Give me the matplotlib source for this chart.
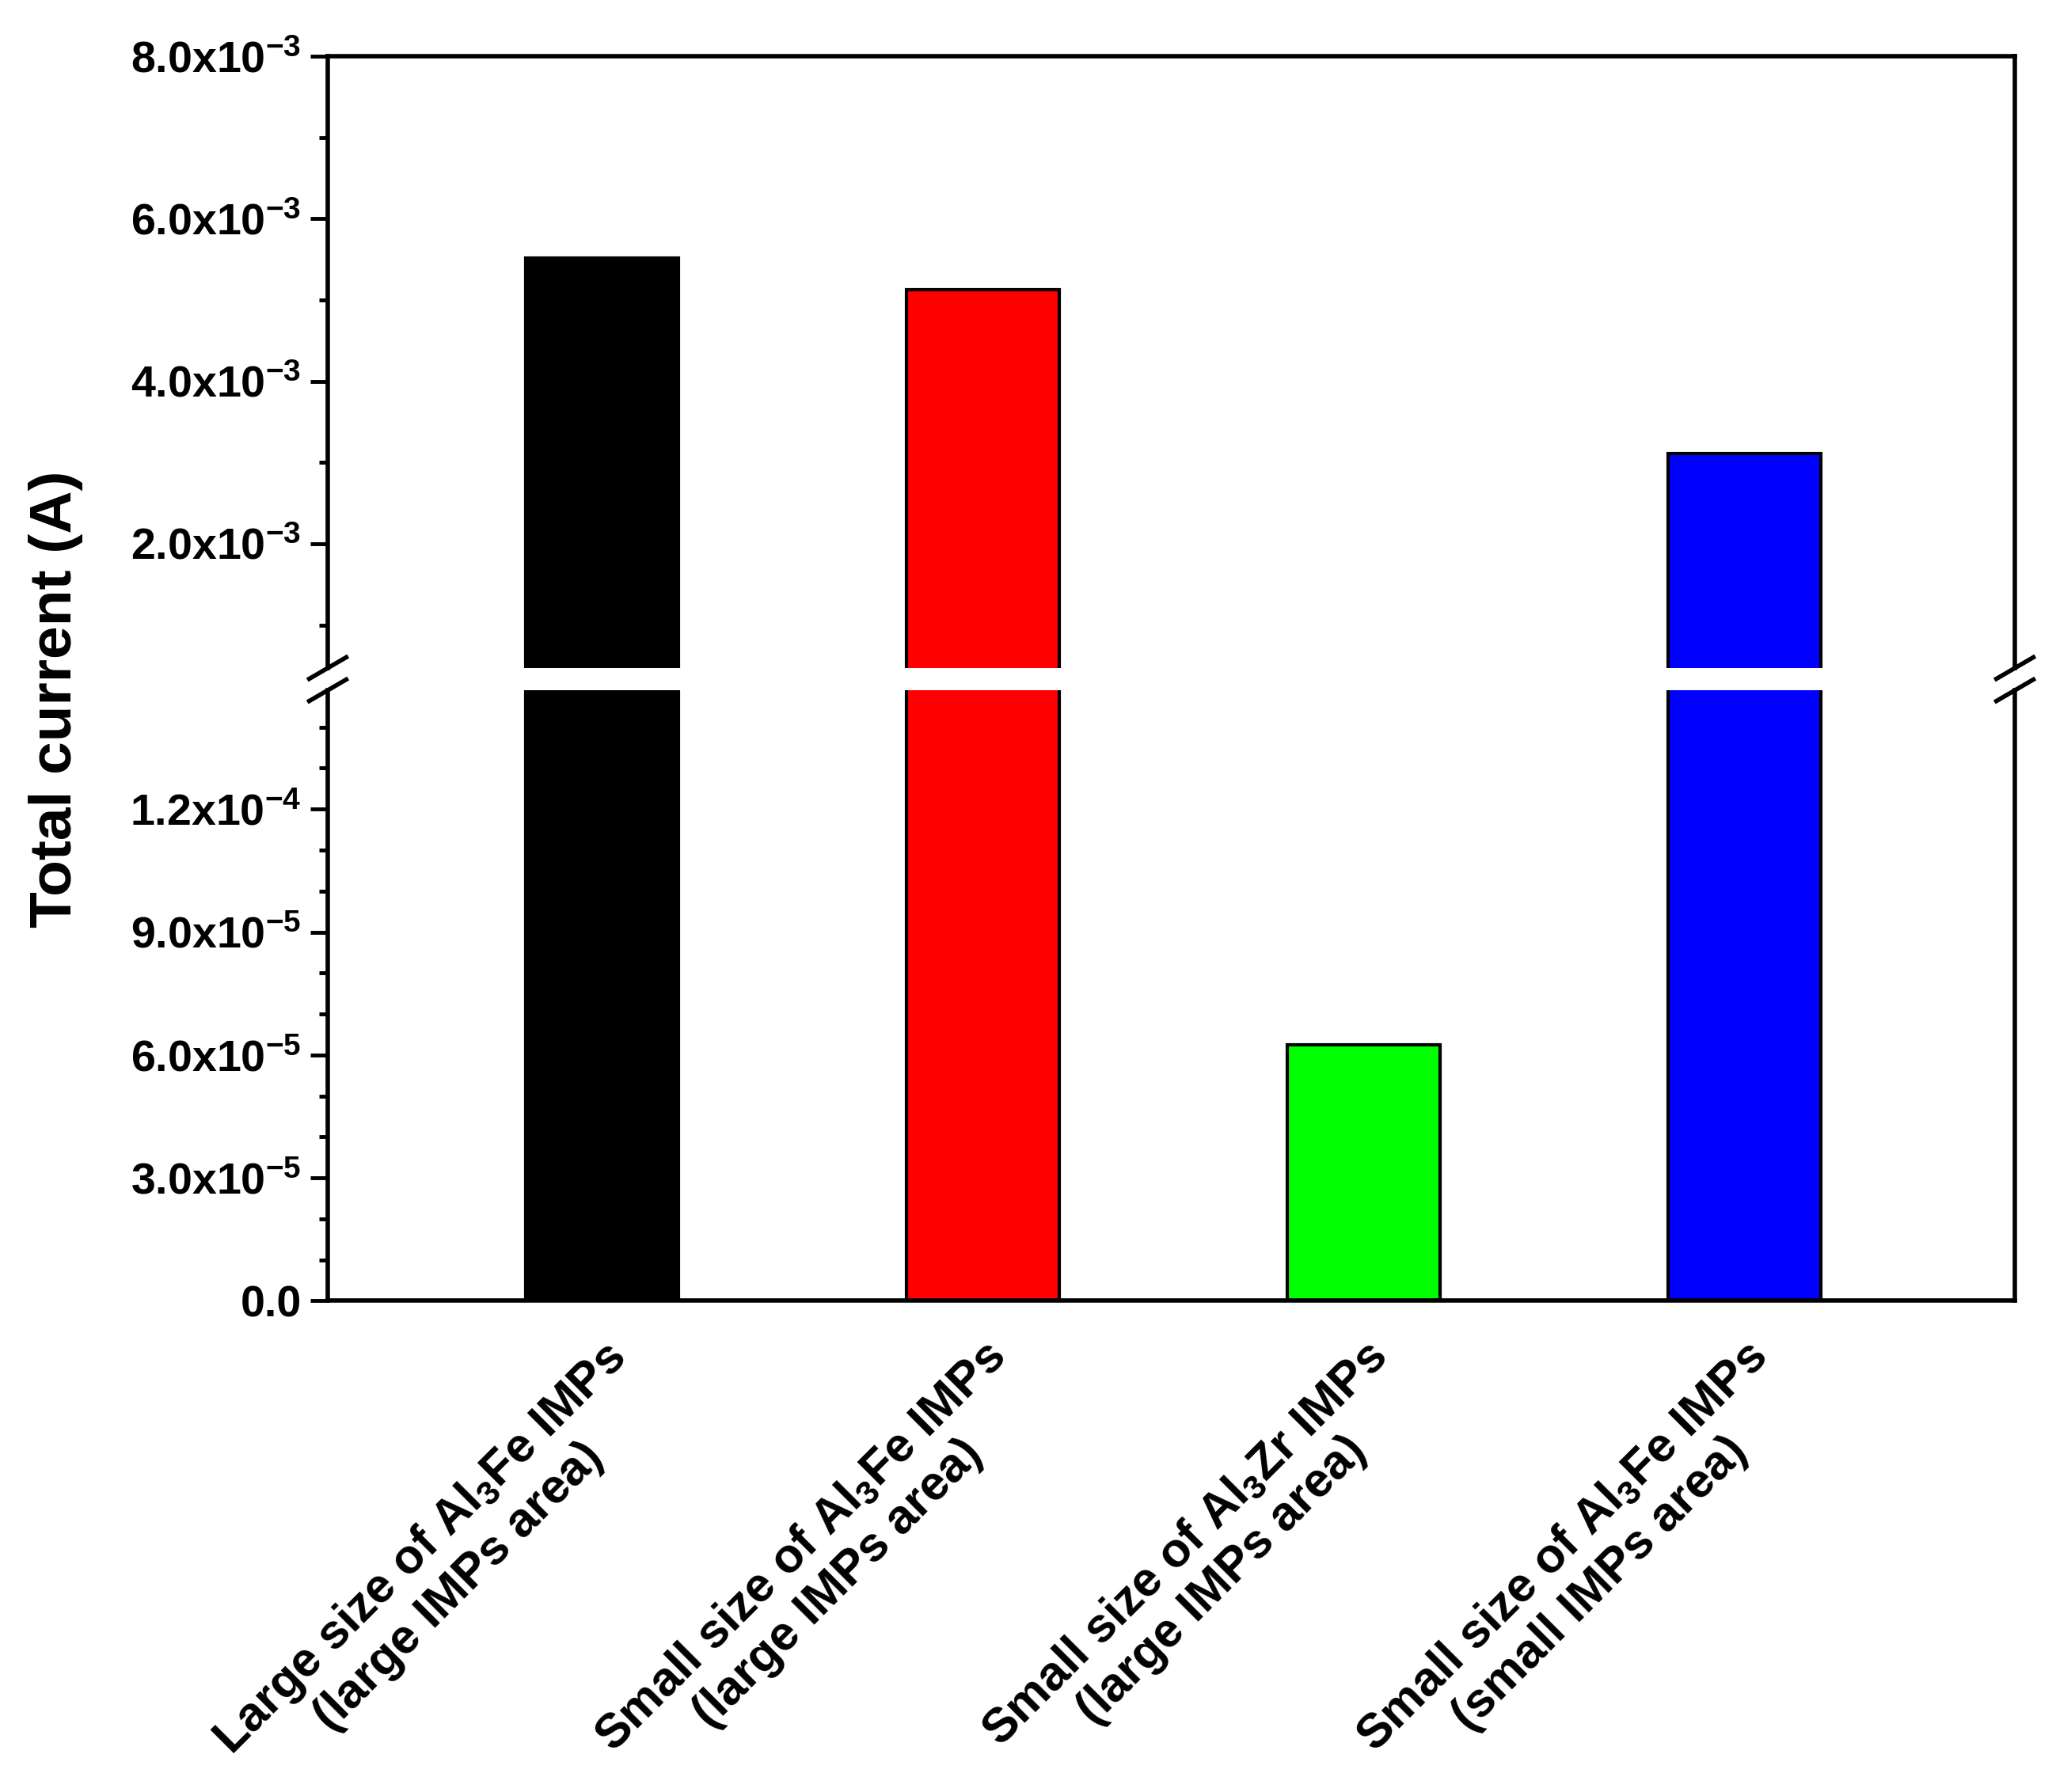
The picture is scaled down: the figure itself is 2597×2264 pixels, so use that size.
import matplotlib
matplotlib.use("Agg")
import matplotlib.pyplot as plt
from matplotlib.lines import Line2D
from matplotlib.ticker import MultipleLocator, FixedLocator

plt.rcParams['font.family'] = 'Liberation Sans'
plt.rcParams['font.weight'] = 'bold'
plt.rcParams['mathtext.fontset'] = 'custom'
plt.rcParams['mathtext.rm'] = 'Liberation Sans:bold'
plt.rcParams['mathtext.bf'] = 'Liberation Sans:bold'
plt.rcParams['mathtext.default'] = 'rm'

categories = [
    "Large size of Al$_3$Fe IMPs\n(large IMPs area)",
    "Small size of Al$_3$Fe IMPs\n(large IMPs area)",
    "Small size of Al$_3$Zr IMPs\n(large IMPs area)",
    "Small size of Al$_3$Fe IMPs\n(small IMPs area)",
]
values = [5.52e-3, 5.13e-3, 6.25e-5, 3.11e-3]
colors = ["#000000", "#ff0000", "#00ff00", "#0000ff"]
upper_ticks = [2e-3, 4e-3, 6e-3, 8e-3]
upper_labels = ["2.0x10$^{-3}$", "4.0x10$^{-3}$", "6.0x10$^{-3}$", "8.0x10$^{-3}$"]
lower_ticks = [0, 3e-5, 6e-5, 9e-5, 1.2e-4]
lower_labels = ["0.0", "3.0x10$^{-5}$", "6.0x10$^{-5}$", "9.0x10$^{-5}$", "1.2x10$^{-4}$"]

fig = plt.figure(figsize=(25.97, 22.64), dpi=100)
left, right = 0.1594, 0.980
ax_up = fig.add_axes([left, 0.6272, right - left, 0.9686 - 0.6272])
ax_lo = fig.add_axes([left, 0.2741, right - left, 0.6148 - 0.2741])

x = [1, 2, 3, 4]
for ax in (ax_up, ax_lo):
    ax.bar(x, values, width=0.4, color=colors, edgecolor="black", linewidth=3)
    ax.set_xlim(0.28, 4.71)
    for s in ax.spines.values():
        s.set_linewidth(4)
    ax.tick_params(axis='y', which='major', direction='out', length=16, width=3.5,
                   labelsize=40, right=False, pad=8)
    ax.tick_params(axis='y', which='minor', direction='out', length=8, width=3.5)

ax_up.set_ylim(0.47e-3, 8e-3)
ax_up.yaxis.set_major_locator(FixedLocator(upper_ticks))
ax_up.set_yticklabels(upper_labels)
ax_up.yaxis.set_minor_locator(MultipleLocator(1e-3))
ax_up.spines['bottom'].set_visible(False)
ax_up.set_xticks([])

ax_lo.set_ylim(0, 1.49e-4)
ax_lo.yaxis.set_major_locator(FixedLocator(lower_ticks))
ax_lo.set_yticklabels(lower_labels)
ax_lo.yaxis.set_minor_locator(MultipleLocator(1e-5))
ax_lo.spines['top'].set_visible(False)
ax_lo.set_xticks(x)
ax_lo.set_xticklabels(categories, rotation=45, ha='right', va='top',
                      rotation_mode='anchor', fontsize=44, multialignment='center')
ax_lo.tick_params(axis='x', length=0, pad=30)

fig.text(0.027, 0.61, "Total current (A)", rotation=90, fontsize=54,
         fontweight='bold', ha='center', va='center')

# break marks on both sides
for xf in (left, right):
    for yc in (0.6272, 0.6148):
        fig.add_artist(Line2D([xf - 0.009, xf + 0.009], [yc - 0.006, yc + 0.006],
                              color='black', lw=4, transform=fig.transFigure))

fig.savefig("out.png", dpi=100)
